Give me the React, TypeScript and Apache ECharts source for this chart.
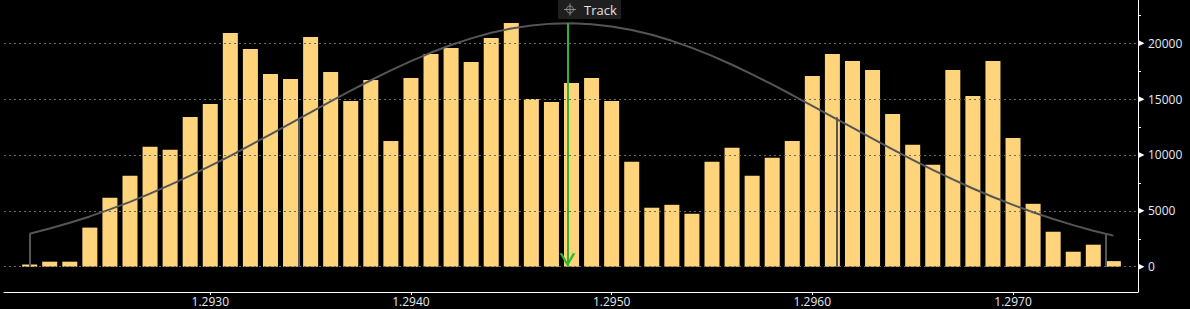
import { useEffect, useRef } from "react";
import * as echarts from "echarts";

// Price buckets (x) and traded volume per bucket (bars)
const prices = [
  1.2921, 1.2922, 1.2923, 1.2924, 1.2925, 1.2926, 1.2927, 1.2928, 1.2929, 1.293,
  1.2931, 1.2932, 1.2933, 1.2934, 1.2935, 1.2936, 1.2937, 1.2938, 1.2939, 1.294,
  1.2941, 1.2942, 1.2943, 1.2944, 1.2945, 1.2946, 1.2947, 1.2948, 1.2949, 1.295,
  1.2951, 1.2952, 1.2953, 1.2954, 1.2955, 1.2956, 1.2957, 1.2958, 1.2959, 1.296,
  1.2961, 1.2962, 1.2963, 1.2964, 1.2965, 1.2966, 1.2967, 1.2968, 1.2969, 1.297,
  1.2971, 1.2972, 1.2973, 1.2974, 1.2975,
];
const volumes = [
  200, 450, 450, 3500, 6170, 8140, 10730, 10460, 13410, 14570,
  20920, 19490, 17250, 16810, 20560, 17430, 14840, 16720, 11260, 16900,
  19040, 19580, 18330, 20470, 21810, 15020, 14750, 16450, 16900, 14840,
  9390, 5280, 5540, 4740, 9390, 10640, 8140, 9750, 11260, 17080,
  19040, 18420, 17610, 13680, 10910, 9120, 17610, 15290, 18420, 11530,
  5630, 3130, 1340, 1970, 500,
];
// Distribution curve read at each bucket
const curveValues = [
  2950, 3420, 3930, 4500, 5130, 5800, 6540, 7320, 8150, 9020,
  9930, 10880, 11850, 12830, 13820, 14790, 15760, 16690, 17570, 18400,
  19170, 19850, 20440, 20940, 21330, 21600, 21760, 21800, 21710, 21510,
  21190, 20760, 20220, 19590, 18870, 18080, 17220, 16320, 15370, 14400,
  13420, 12440, 11460, 10500, 9570, 8670, 7810, 7000, 6240, 5530,
  4870, 4270, 3720, 3220, 2780,
];
// Sigma marker lines
const sigmaPrices = [1.2921, 1.29344, 1.29612, 1.29746];
const sigmaValues = [2950, 13290, 13380, 2920];
// Track (mean) arrow
const trackPrice = 1.29478;
const trackValue = 21800;

const xLabels = [1.293, 1.294, 1.295, 1.296, 1.297];
const yLabels = [0, 5000, 10000, 15000, 20000];
const yTicks = [2500, 7500, 12500, 17500, 22500];

const X_MIN = 1.2919722;
const X_MAX = 1.2976227;
const Y_MIN = -2265;
const Y_MAX = 23875;

const FONT = '"Open Sans", "Noto Sans", sans-serif';
const LABEL_COLOR = "#e4ebf5";
const GRID_COLOR = "#6a6a6a";
const CURVE_COLOR = "#555555";
const GREEN = "#2fb52f";

export default function App() {
  const ref = useRef<HTMLDivElement>(null);

  useEffect(() => {
    const chart = echarts.init(ref.current!, null, { renderer: "svg" });
    chart.setOption({
      animation: false,
      backgroundColor: "#000000",
      grid: { left: 4, right: 52, top: 0, bottom: 17 },
      xAxis: {
        type: "value",
        min: X_MIN,
        max: X_MAX,
        axisLine: { show: true, onZero: false, lineStyle: { color: "#ffffff", width: 1 } },
        axisTick: {
          show: true,
          customValues: xLabels,
          length: 3,
          lineStyle: { color: "#ffffff" },
        },
        splitLine: { show: false },
        axisLabel: {
          customValues: xLabels,
          formatter: (v: number) => v.toFixed(4),
          color: LABEL_COLOR,
          fontSize: 12,
          fontFamily: FONT,
          margin: 3,
        },
      },
      yAxis: {
        type: "value",
        position: "right",
        min: Y_MIN,
        max: Y_MAX,
        axisLine: { show: true, onZero: false, lineStyle: { color: "#ffffff", width: 1 } },
        axisTick: {
          show: true,
          customValues: yTicks,
          length: 3,
          lineStyle: { color: "#ffffff" },
        },
        splitLine: { show: false },
        axisLabel: {
          customValues: yLabels,
          formatter: (v: number) => String(v),
          color: LABEL_COLOR,
          fontSize: 12,
          fontFamily: FONT,
          margin: 10,
        },
      },
      series: [
        {
          // grid lines + y tick triangles
          type: "line",
          data: [],
          z: 1,
          silent: true,
          markLine: {
            silent: true,
            symbol: "none",
            label: { show: false },
            lineStyle: { color: GRID_COLOR, type: [2, 3], width: 1 },
            data: [
              ...xLabels.map((v) => ({ xAxis: v })),
              ...yLabels.map((v) => ({ yAxis: v })),
            ],
          },
          markPoint: {
            silent: true,
            symbol: "triangle",
            symbolSize: [6, 6],
            symbolRotate: -90,
            symbolOffset: [3.5, 0],
            label: { show: false },
            itemStyle: { color: "#ffffff" },
            data: yLabels.map((v) => ({ coord: [X_MAX, v] })),
          },
        },
        {
          type: "bar",
          data: prices.map((p, i) => [p, volumes[i]]),
          barWidth: 15,
          z: 2,
          itemStyle: { color: "#FFD47B" },
        },
        {
          type: "line",
          data: prices.map((p, i) => [p, curveValues[i]]),
          showSymbol: false,
          z: 3,
          lineStyle: { color: CURVE_COLOR, width: 2 },
          markLine: {
            silent: true,
            symbol: "none",
            label: { show: false },
            lineStyle: { color: CURVE_COLOR, type: "solid", width: 2 },
            data: sigmaPrices.map((p, i) => [
              { coord: [p, 0] },
              { coord: [p, sigmaValues[i]] },
            ]),
          },
        },
        {
          type: "line",
          data: [],
          z: 5,
          markLine: {
            silent: true,
            symbol: "none",
            label: { show: false },
            lineStyle: { color: GREEN, type: "solid", width: 2 },
            data: [[{ coord: [trackPrice, trackValue] }, { coord: [trackPrice, 0] }]],
          },
          markPoint: {
            silent: true,
            symbol: "path://M0,0 L2.8,0 L8,9.6 L13.2,0 L16,0 L8,13.5 Z",
            symbolSize: [16, 13.5],
            symbolOffset: [0, -6.75],
            label: { show: false },
            itemStyle: { color: GREEN },
            data: [{ coord: [trackPrice, 0] }],
          },
        },
      ],
      graphic: [
        {
          type: "rect",
          shape: { x: 558, y: 0, width: 63, height: 19 },
          style: { fill: "#1f1f1f" },
          z: 10,
        },
        {
          type: "circle",
          shape: { cx: 570, cy: 9.5, r: 3.5 },
          style: { fill: "none", stroke: "#8a8a8a", lineWidth: 1 },
          z: 11,
        },
        {
          type: "line",
          shape: { x1: 564, y1: 9.5, x2: 576, y2: 9.5 },
          style: { stroke: "#8a8a8a", lineWidth: 1 },
          z: 11,
        },
        {
          type: "line",
          shape: { x1: 570, y1: 3.5, x2: 570, y2: 15.5 },
          style: { stroke: "#8a8a8a", lineWidth: 1 },
          z: 11,
        },
        {
          type: "text",
          x: 584,
          y: 10,
          z: 11,
          style: {
            text: "Track",
            fill: "#e2e2e2",
            font: `13px ${FONT}`,
            verticalAlign: "middle",
          },
        },
      ],
    });
    return () => chart.dispose();
  }, []);

  return (
    <div
      ref={ref}
      style={{ position: "fixed", left: 0, top: 0, width: 1190, height: 309 }}
    />
  );
}
